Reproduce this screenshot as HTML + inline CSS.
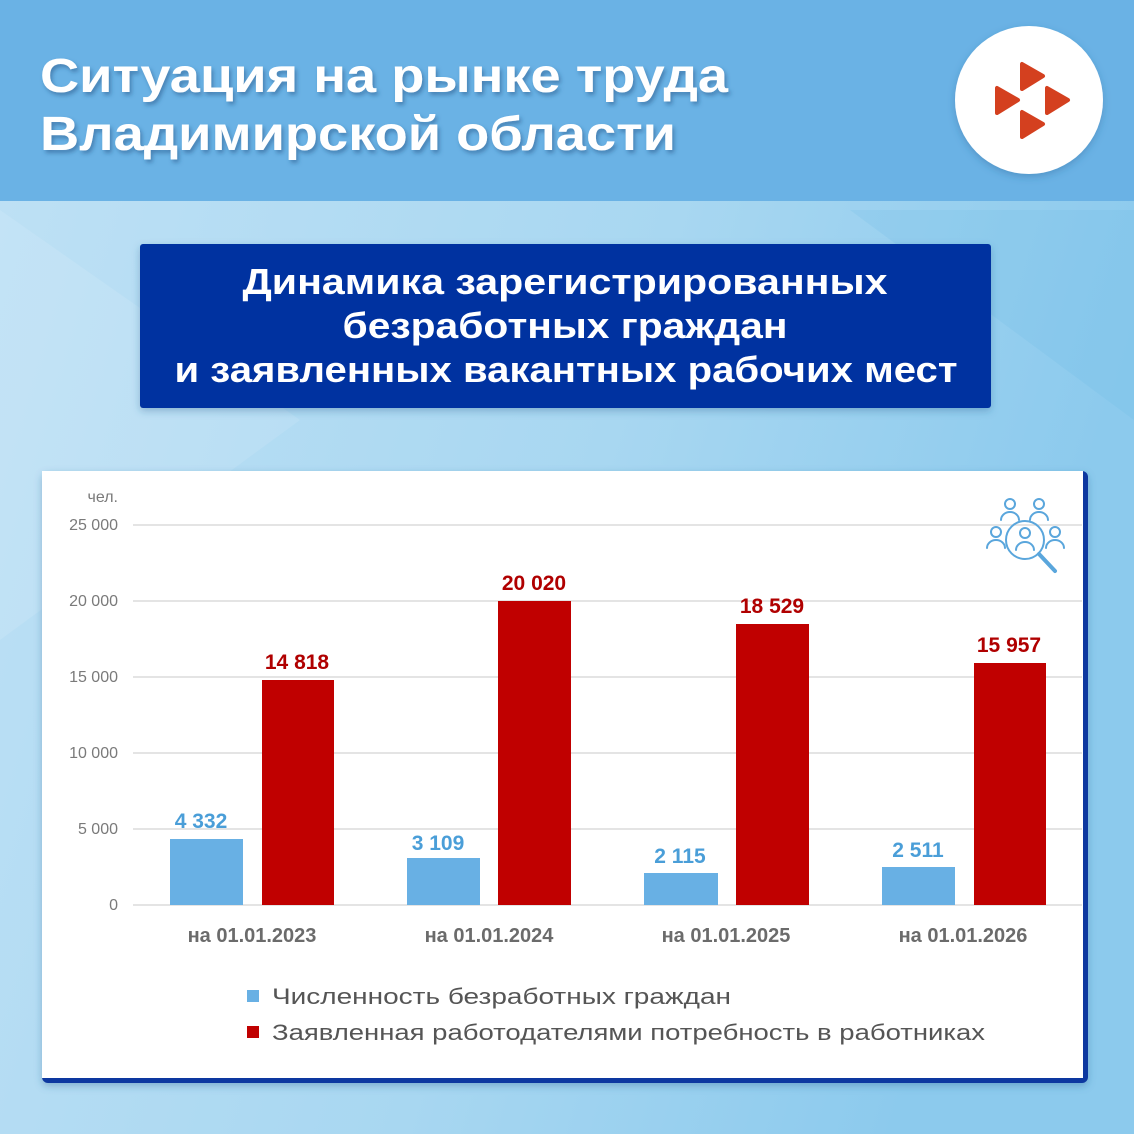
<!DOCTYPE html>
<html><head><meta charset="utf-8"><style>
html,body{margin:0;padding:0;width:1134px;height:1134px;overflow:hidden}
svg{display:block}
text{font-family:"Liberation Sans","DejaVu Sans",sans-serif}
</style></head><body>
<svg width="1134" height="1134" viewBox="0 0 1134 1134" xmlns="http://www.w3.org/2000/svg">
<defs>
<linearGradient id="bg" x1="0" y1="0" x2="1" y2="0.3">
<stop offset="0" stop-color="#bfe1f5"/><stop offset="0.6" stop-color="#a8d7f1"/><stop offset="1" stop-color="#8ccaed"/>
</linearGradient>
<filter id="sh" x="-10%" y="-10%" width="120%" height="120%"><feDropShadow dx="0" dy="3" stdDeviation="4" flood-color="#2a5f90" flood-opacity="0.35"/></filter>
<filter id="ts"><feDropShadow dx="2" dy="3" stdDeviation="2" flood-color="#1d4f80" flood-opacity="0.5"/></filter>
</defs>
<rect width="1134" height="1134" fill="url(#bg)"/>
<polygon points="0,210 300,420 0,640" fill="#ffffff" opacity="0.1"/>
<polygon points="850,210 1134,210 1134,420" fill="#5fb4e6" opacity="0.15"/>
<rect width="1134" height="201" fill="#6ab2e5"/>
<g fill="#fff" font-weight="bold" font-size="48" filter="url(#ts)">
<text x="40" y="92" textLength="688" lengthAdjust="spacingAndGlyphs">Ситуация на рынке труда</text>
<text x="40" y="150" textLength="636" lengthAdjust="spacingAndGlyphs">Владимирской области</text>
</g>
<circle cx="1029" cy="100" r="74" fill="#fff" filter="url(#sh)"/>
<g fill="#d4401f" stroke="#d4401f" stroke-width="4" stroke-linejoin="round">
<polygon points="1022,64 1022,89 1043,76"/>
<polygon points="997,88 997,113 1018,100"/>
<polygon points="1047,88 1047,113 1068,100"/>
<polygon points="1022,112 1022,137 1043,124"/>
</g>
<rect x="140" y="244" width="851" height="164" rx="3" fill="#0232a0" filter="url(#sh)"/>
<g fill="#fff" font-weight="bold" font-size="36" text-anchor="middle">
<text x="565" y="294" textLength="645" lengthAdjust="spacingAndGlyphs">Динамика зарегистрированных</text>
<text x="565" y="338" textLength="445" lengthAdjust="spacingAndGlyphs">безработных граждан</text>
<text x="566" y="382" textLength="783" lengthAdjust="spacingAndGlyphs">и заявленных вакантных рабочих мест</text>
</g>
<rect x="42" y="471" width="1046" height="612" rx="6" fill="#0a38a0" filter="url(#sh)"/>
<rect x="42" y="471" width="1041" height="607" fill="#fff"/>
<g stroke="#dcdcdc" stroke-width="1.5">
<line x1="133" y1="525" x2="1082" y2="525"/><line x1="133" y1="601" x2="1082" y2="601"/>
<line x1="133" y1="677" x2="1082" y2="677"/><line x1="133" y1="753" x2="1082" y2="753"/>
<line x1="133" y1="829" x2="1082" y2="829"/><line x1="133" y1="905" x2="1082" y2="905"/>
</g>
<g fill="#7a7a7a" font-size="16" text-anchor="end">
<text x="118" y="502">чел.</text>
<text x="118" y="530">25 000</text><text x="118" y="606">20 000</text>
<text x="118" y="682">15 000</text><text x="118" y="758">10 000</text>
<text x="118" y="834">5 000</text><text x="118" y="910">0</text>
</g>
<g fill="#68b0e4">
<rect x="170" y="839" width="73" height="66"/><rect x="407" y="858" width="73" height="47"/>
<rect x="644" y="873" width="74" height="32"/><rect x="882" y="867" width="73" height="38"/>
</g>
<g fill="#c00000">
<rect x="262" y="680" width="72" height="225"/><rect x="498" y="601" width="73" height="304"/>
<rect x="736" y="624" width="73" height="281"/><rect x="974" y="663" width="72" height="242"/>
</g>
<g font-weight="bold" font-size="21" text-anchor="middle">
<g fill="#4a9ed8">
<text x="201" y="828">4 332</text><text x="438" y="850">3 109</text>
<text x="680" y="863">2 115</text><text x="918" y="857">2 511</text>
</g>
<g fill="#b00000">
<text x="297" y="669">14 818</text><text x="534" y="590">20 020</text>
<text x="772" y="613">18 529</text><text x="1009" y="652">15 957</text>
</g>
</g>
<g fill="#6b6b6b" font-weight="bold" font-size="20" text-anchor="middle">
<text x="252" y="942">на 01.01.2023</text><text x="489" y="942">на 01.01.2024</text>
<text x="726" y="942">на 01.01.2025</text><text x="963" y="942">на 01.01.2026</text>
</g>
<rect x="247" y="990" width="12" height="12" fill="#68b0e4"/>
<rect x="247" y="1026" width="12" height="12" fill="#c00000"/>
<g fill="#555" font-size="22">
<text x="272" y="1004" textLength="459" lengthAdjust="spacingAndGlyphs">Численность безработных  граждан</text>
<text x="272" y="1040" textLength="713" lengthAdjust="spacingAndGlyphs">Заявленная работодателями потребность в работниках</text>
</g>
<g fill="none" stroke="#5aa6dc" stroke-width="2" stroke-linecap="round">
<circle cx="1010" cy="504" r="5"/><path d="M1001,520 a9,8 0 0 1 18,0"/>
<circle cx="1039" cy="504" r="5"/><path d="M1030,520 a9,8 0 0 1 18,0"/>
<circle cx="996" cy="532" r="5"/><path d="M987,548 a9,8 0 0 1 18,0"/>
<circle cx="1055" cy="532" r="5"/><path d="M1046,548 a9,8 0 0 1 18,0"/>
<circle cx="1025" cy="540" r="19"/>
<circle cx="1025" cy="533" r="5"/><path d="M1016,550 a9,8 0 0 1 18,0"/>
<line x1="1039" y1="554" x2="1055" y2="571" stroke-width="4"/>
</g>
</svg>
</body></html>
